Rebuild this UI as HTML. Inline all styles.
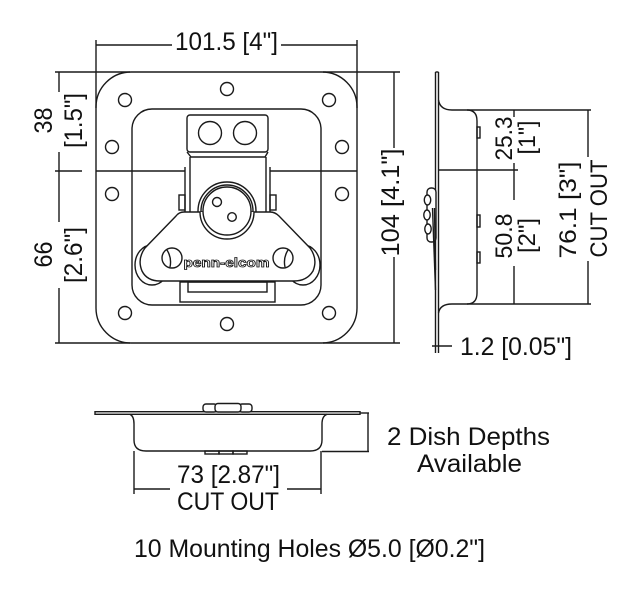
<!DOCTYPE html>
<html><head><meta charset="utf-8"><style>
html,body{margin:0;padding:0;background:#fff;}
svg{display:block;}
text{font-family:"Liberation Sans",Arial,sans-serif;fill:#111;}
</style></head><body>
<svg width="642" height="590" viewBox="0 0 642 590" xmlns="http://www.w3.org/2000/svg">
<g fill="none" stroke="#1a1a1a" stroke-width="1.4">
<!-- ===== FRONT VIEW ===== -->
<line x1="96" y1="45" x2="172" y2="45"/>
<line x1="281" y1="45" x2="357" y2="45"/>
<line x1="96" y1="40" x2="96" y2="108"/>
<line x1="357" y1="40" x2="357" y2="108"/>
<line x1="55" y1="72" x2="130" y2="72"/>
<line x1="323" y1="72" x2="400" y2="72"/>
<line x1="55" y1="343" x2="130" y2="343"/>
<line x1="323" y1="343" x2="400" y2="343"/>
<line x1="55" y1="171" x2="82" y2="171"/>
<line x1="59" y1="72" x2="59" y2="92"/>
<line x1="59" y1="152" x2="59" y2="222"/>
<line x1="59" y1="288" x2="59" y2="343"/>
<rect x="96" y="72" width="261" height="271" rx="35"/>
<rect x="132" y="109" width="189" height="196" rx="20"/>
<line x1="96" y1="171" x2="185" y2="171"/>
<line x1="270" y1="171" x2="357" y2="171"/>
<circle cx="227" cy="89" r="6.5"/>
<circle cx="125" cy="100" r="6.5"/>
<circle cx="329" cy="100" r="6.5"/>
<circle cx="112" cy="147" r="6.5"/>
<circle cx="342" cy="147" r="6.5"/>
<circle cx="112" cy="194" r="6.5"/>
<circle cx="342" cy="194" r="6.5"/>
<circle cx="125" cy="313" r="6.5"/>
<circle cx="329" cy="313" r="6.5"/>
<circle cx="227" cy="324" r="6.5"/>
<rect x="187" y="115" width="81" height="37" rx="3" fill="#fff"/>
<circle cx="210" cy="133" r="11.5"/>
<circle cx="245" cy="133" r="11.5"/>
<path d="M187,152 L191,157 L265,157 L268,152"/>
<line x1="190" y1="157" x2="190" y2="214"/>
<line x1="266" y1="157" x2="266" y2="214"/>
<line x1="185" y1="167" x2="185" y2="214"/>
<line x1="270" y1="167" x2="270" y2="214"/>
<rect x="179" y="195" width="6" height="15"/>
<rect x="270" y="195" width="6" height="15"/>
<circle cx="227" cy="211" r="29" fill="#fff"/>
<circle cx="227" cy="211" r="26"/>
<rect x="180" y="282" width="95" height="20" fill="#fff"/>
<rect x="188" y="282" width="79" height="10"/>
<ellipse cx="152" cy="265" rx="17" ry="20" fill="#fff"/>
<ellipse cx="303" cy="265" rx="17" ry="20" fill="#fff"/>
<path d="M184,212 L270,212 Q275,212 279,216 L310,248 Q318,259 313,271 Q307,281 294,281 L160,281 Q147,281 142,271 Q137,259 145,248 L176,216 Q179,212 184,212 Z" fill="#fff"/>
<path d="M200,212 A27 27 0 0 0 254,212" fill="#fff"/>
<circle cx="227" cy="211" r="24" fill="#fff"/>
<circle cx="217" cy="202" r="4.5"/>
<circle cx="232" cy="217" r="4.3"/>
<circle cx="172" cy="258" r="10" fill="#fff"/>
<path d="M167,250 Q172,258 170,267"/>
<circle cx="283" cy="258" r="10" fill="#fff"/>
<path d="M288,250 Q283,258 285,267"/>

<!-- ===== SIDE VIEW ===== -->
<line x1="394" y1="72" x2="394" y2="148"/>
<line x1="394" y1="257" x2="394" y2="343"/>
<line x1="435.5" y1="72" x2="435.5" y2="353"/>
<line x1="438.5" y1="72" x2="438.5" y2="353"/>
<line x1="435.5" y1="72" x2="438.5" y2="72"/>
<path d="M438.5,100 Q440,110 452,110 L467,110 Q477,110 477,121 L477,293 Q477,304 467,304 L452,304 Q440,304 438.5,313"/>
<rect x="477" y="127" width="3" height="11"/>
<rect x="477" y="215" width="3" height="12"/>
<rect x="477" y="252" width="3" height="11"/>
<rect x="427" y="188" width="9" height="54" rx="4" fill="#fff"/>
<ellipse cx="427.5" cy="200" rx="3.2" ry="5" fill="#fff"/>
<ellipse cx="427" cy="215" rx="3.2" ry="5" fill="#fff"/>
<ellipse cx="428" cy="229" rx="3.2" ry="5" fill="#fff"/>
<line x1="432.5" y1="208" x2="435.5" y2="290"/>
<line x1="434.5" y1="208" x2="435.5" y2="270"/>
<line x1="467" y1="110" x2="591" y2="110"/>
<line x1="467" y1="304" x2="591" y2="304"/>
<line x1="438" y1="170" x2="518" y2="170"/>
<line x1="514" y1="110" x2="514" y2="117"/>
<line x1="514" y1="163" x2="514" y2="200"/>
<line x1="514" y1="266" x2="514" y2="304"/>
<line x1="588" y1="110" x2="588" y2="157"/>
<line x1="588" y1="261" x2="588" y2="304"/>
<line x1="432" y1="346" x2="452" y2="346"/>

<!-- ===== BOTTOM VIEW ===== -->
<rect x="95" y="411.7" width="265" height="2.6" fill="#fff"/>
<path d="M130,414.3 Q134,416 134,424 L134,440 Q134,451 146,451 L310,451 Q322,451 322,440 L322,424 Q322,416 327,414.3"/>
<rect x="203" y="404" width="14" height="8" rx="3" fill="#fff"/>
<rect x="239" y="404" width="13" height="8" rx="3" fill="#fff"/>
<rect x="215" y="403.5" width="26" height="8.5" rx="3" fill="#fff"/>
<rect x="205" y="451" width="14" height="3"/>
<rect x="219" y="451" width="14" height="3"/>
<rect x="233" y="451" width="14" height="3"/>
<line x1="360" y1="413" x2="369" y2="413"/>
<line x1="368" y1="413" x2="368" y2="452"/>
<line x1="322" y1="451.5" x2="369" y2="451.5"/>
<line x1="134" y1="451" x2="134" y2="494"/>
<line x1="321" y1="451" x2="321" y2="494"/>
<line x1="134" y1="489" x2="170" y2="489"/>
<line x1="287" y1="489" x2="321" y2="489"/>
</g>

<text x="226.5" y="267" font-size="13" font-weight="bold" text-anchor="middle" textLength="86" lengthAdjust="spacingAndGlyphs" style="fill:#fff;stroke:#111;stroke-width:0.8">penn-elcom</text>

<text x="226.5" y="50" font-size="25" text-anchor="middle" textLength="103" lengthAdjust="spacingAndGlyphs">101.5 [4"]</text>

<text transform="translate(52,120.5) rotate(-90)" font-size="25" text-anchor="middle" textLength="26" lengthAdjust="spacingAndGlyphs">38</text>
<text transform="translate(82,120.5) rotate(-90)" font-size="25" text-anchor="middle" textLength="55" lengthAdjust="spacingAndGlyphs">[1.5"]</text>
<text transform="translate(52,254.5) rotate(-90)" font-size="25" text-anchor="middle" textLength="26" lengthAdjust="spacingAndGlyphs">66</text>
<text transform="translate(82,255) rotate(-90)" font-size="25" text-anchor="middle" textLength="56" lengthAdjust="spacingAndGlyphs">[2.6"]</text>

<text transform="translate(399,202.5) rotate(-90)" font-size="25" text-anchor="middle" textLength="108" lengthAdjust="spacingAndGlyphs">104 [4.1"]</text>

<text transform="translate(512,138.5) rotate(-90)" font-size="24" text-anchor="middle" textLength="44" lengthAdjust="spacingAndGlyphs">25.3</text>
<text transform="translate(535,137.5) rotate(-90)" font-size="24" text-anchor="middle" textLength="34" lengthAdjust="spacingAndGlyphs">[1"]</text>
<text transform="translate(512,236) rotate(-90)" font-size="24" text-anchor="middle" textLength="45" lengthAdjust="spacingAndGlyphs">50.8</text>
<text transform="translate(535,235.5) rotate(-90)" font-size="24" text-anchor="middle" textLength="35" lengthAdjust="spacingAndGlyphs">[2"]</text>
<text transform="translate(576,210) rotate(-90)" font-size="24" text-anchor="middle" textLength="97" lengthAdjust="spacingAndGlyphs">76.1 [3"]</text>
<text transform="translate(607,208.5) rotate(-90)" font-size="24" text-anchor="middle" textLength="98" lengthAdjust="spacingAndGlyphs">CUT OUT</text>

<text x="460" y="355" font-size="25" textLength="112" lengthAdjust="spacingAndGlyphs">1.2 [0.05"]</text>

<text x="228.5" y="483" font-size="25" text-anchor="middle" textLength="103" lengthAdjust="spacingAndGlyphs">73 [2.87"]</text>
<text x="228" y="510" font-size="25" text-anchor="middle" textLength="102" lengthAdjust="spacingAndGlyphs">CUT OUT</text>
<text x="468.5" y="445" font-size="25" text-anchor="middle" textLength="163" lengthAdjust="spacingAndGlyphs">2 Dish Depths</text>
<text x="469.5" y="472" font-size="25" text-anchor="middle" textLength="105" lengthAdjust="spacingAndGlyphs">Available</text>
<text x="309.5" y="557" font-size="25" text-anchor="middle" textLength="351" lengthAdjust="spacingAndGlyphs">10 Mounting Holes Ø5.0 [Ø0.2"]</text>
</svg>
</body></html>
